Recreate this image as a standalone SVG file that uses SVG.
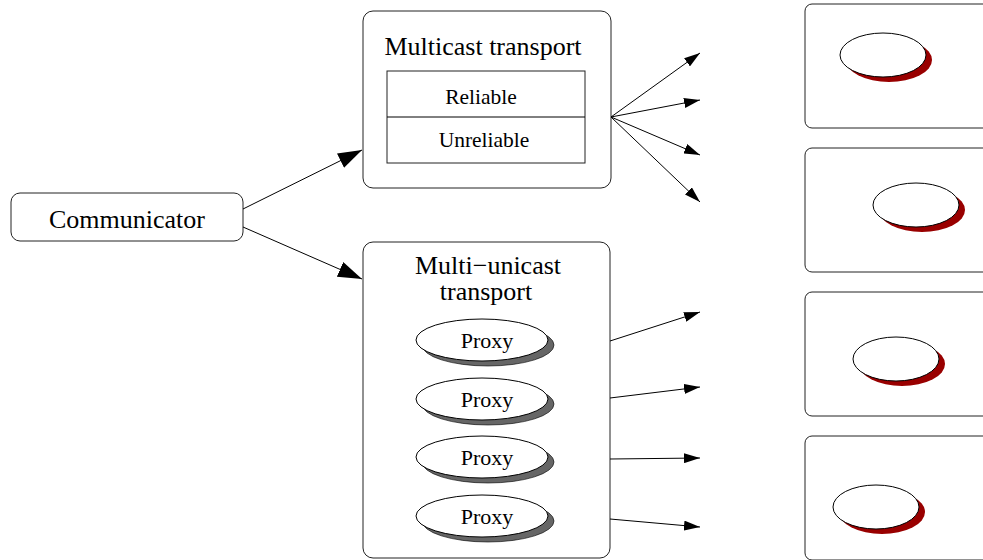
<svg xmlns="http://www.w3.org/2000/svg" width="983" height="560" viewBox="0 0 983 560">
<style>
.box{fill:#fff;stroke:#222;stroke-width:1}
.ln{stroke:#000;stroke-width:1;fill:none}
.t{font-family:"Liberation Serif",serif;fill:#000;text-anchor:middle}
.el{fill:#fff;stroke:#000;stroke-width:1}
.sg{fill:#666;stroke:#000;stroke-width:0.6}
.sr{fill:#990000}
</style>
<defs>
<marker id="a" markerWidth="16" markerHeight="10" refX="16" refY="5" orient="auto" markerUnits="userSpaceOnUse"><path d="M0,0 L16,5 L0,10 Z" fill="#000"/></marker>
<marker id="b" markerWidth="24" markerHeight="16" refX="24" refY="8" orient="auto" markerUnits="userSpaceOnUse"><path d="M0,0 L24,8 L0,16 Z" fill="#000"/></marker>
</defs>
<g id="communicator">
<rect class="box" x="11" y="193" width="232" height="48" rx="9"/>
<text class="t" x="127" y="228" font-size="26">Communicator</text>
</g>
<g id="multicast">
<rect class="box" x="363" y="11" width="248" height="177" rx="10"/>
<text class="t" x="483" y="55" font-size="26">Multicast transport</text>
<rect class="box" x="387" y="71" width="198" height="92"/>
<line class="ln" x1="387" y1="117" x2="585" y2="117"/>
<text class="t" x="481" y="104" font-size="21.5">Reliable</text>
<text class="t" x="484" y="147" font-size="21.5">Unreliable</text>
</g>
<g id="multiunicast">
<rect class="box" x="363" y="242" width="247" height="316" rx="10"/>
<text class="t" x="488" y="274" font-size="26">Multi−unicast</text>
<text class="t" x="486" y="300" font-size="26">transport</text>
</g>
<g id="proxy1"><ellipse class="sg" cx="488" cy="345" rx="66" ry="21"/><ellipse class="el" cx="482" cy="340" rx="66" ry="21"/><text class="t" x="487" y="348" font-size="22">Proxy</text></g>
<g id="proxy2"><ellipse class="sg" cx="488" cy="404" rx="66" ry="21"/><ellipse class="el" cx="482" cy="399" rx="66" ry="21"/><text class="t" x="487" y="407" font-size="22">Proxy</text></g>
<g id="proxy3"><ellipse class="sg" cx="488" cy="462" rx="66" ry="21"/><ellipse class="el" cx="482" cy="457" rx="66" ry="21"/><text class="t" x="487" y="465" font-size="22">Proxy</text></g>
<g id="proxy4"><ellipse class="sg" cx="488" cy="521" rx="66" ry="21"/><ellipse class="el" cx="482" cy="516" rx="66" ry="21"/><text class="t" x="487" y="524" font-size="22">Proxy</text></g>
<g id="host1"><rect class="box" x="805" y="4" width="190" height="124" rx="7"/><ellipse class="sr" cx="889" cy="60" rx="43" ry="22"/><ellipse class="el" cx="883" cy="55" rx="43" ry="22"/></g>
<g id="host2"><rect class="box" x="805" y="148" width="190" height="124" rx="7"/><ellipse class="sr" cx="922" cy="210" rx="43" ry="22"/><ellipse class="el" cx="916" cy="205" rx="43" ry="22"/></g>
<g id="host3"><rect class="box" x="805" y="292" width="190" height="124" rx="7"/><ellipse class="sr" cx="902" cy="364" rx="43" ry="22"/><ellipse class="el" cx="896" cy="359" rx="43" ry="22"/></g>
<g id="host4"><rect class="box" x="805" y="436" width="190" height="124" rx="7"/><ellipse class="sr" cx="882" cy="512" rx="43" ry="22"/><ellipse class="el" cx="876" cy="507" rx="43" ry="22"/></g>
<g id="connectors">
<line class="ln" x1="243" y1="209" x2="362" y2="150" marker-end="url(#b)"/>
<line class="ln" x1="243" y1="227" x2="362" y2="279" marker-end="url(#b)"/>
<line class="ln" x1="611" y1="117" x2="700" y2="53" marker-end="url(#a)"/>
<line class="ln" x1="611" y1="117" x2="700" y2="100" marker-end="url(#a)"/>
<line class="ln" x1="611" y1="117" x2="700" y2="155" marker-end="url(#a)"/>
<line class="ln" x1="611" y1="117" x2="700" y2="202" marker-end="url(#a)"/>
<line class="ln" x1="610" y1="341" x2="700" y2="312" marker-end="url(#a)"/>
<line class="ln" x1="610" y1="398" x2="700" y2="387" marker-end="url(#a)"/>
<line class="ln" x1="610" y1="459" x2="700" y2="458" marker-end="url(#a)"/>
<line class="ln" x1="610" y1="519" x2="700" y2="527" marker-end="url(#a)"/>
</g>
</svg>
